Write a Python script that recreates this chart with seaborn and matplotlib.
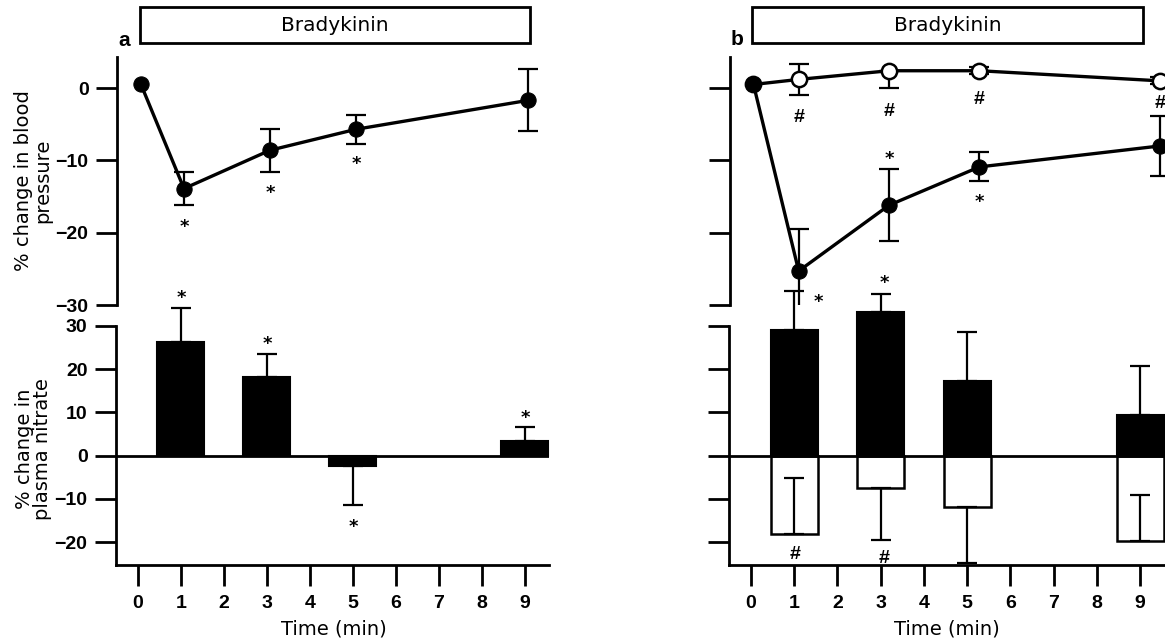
import matplotlib
matplotlib.use('Agg')
import matplotlib.pyplot as plt
from matplotlib.patches import Rectangle
import seaborn as sns
import pandas as pd

sns.set_theme(style='ticks')
plt.rcParams['font.family'] = ['DejaVu Sans']
plt.rcParams.update({'text.color': 'black', 'axes.labelcolor': 'black',
                     'xtick.color': 'black', 'ytick.color': 'black',
                     'axes.edgecolor': 'black'})

# ---------------- data ----------------
time_bp = [0, 1, 3, 5, 9]
bp_a = [0.5, -13.9, -8.6, -5.7, -1.7]
bp_a_err = [0.0, 2.3, 3.0, 2.0, 4.3]
bp_b_bk = [0.5, -25.3, -16.2, -10.9, -8.0]
bp_b_bk_err = [0.0, 5.8, 5.0, 2.0, 4.1]
bp_b_ctrl = [0.5, 1.2, 2.4, 2.4, 1.0]
bp_b_ctrl_err_up = [0.0, 2.1, 0.0, 0.5, 0.5]
bp_b_ctrl_err_dn = [0.0, 2.1, 2.4, 0.5, 0.5]

time_no = [1, 3, 5, 9]
no_a = [26.4, 18.1, -2.5, 3.3]
no_a_err_up = [7.8, 5.4, 0.0, 3.3]
no_a_err_dn = [0.0, 0.0, 8.9, 0.0]
no_b_bk = [29.1, 33.3, 17.3, 9.35]
no_b_bk_err_up = [8.9, 4.2, 11.4, 11.4]
no_b_bk_err_dn = [0.0, 0.0, 0.0, 0.0]
no_b_ctrl = [-18.1, -7.5, -11.8, -19.8]
no_b_ctrl_err_up = [12.9, 0.0, 0.0, 10.6]
no_b_ctrl_err_dn = [0.0, 12.0, 13.0, 0.0]

x_ticks = [0, 1, 2, 3, 4, 5, 6, 7, 8, 9]
bp_ticks = [0, -10, -20, -30]
no_ticks = [30, 20, 10, 0, -10, -20]

# significance marks (x, y)
star_a_top = [(1, -18.5), (3, -13.8), (5, -9.8)]
star_a_bot = [(1, 37.7), (3, 27.0), (5, -15.3), (9, 10.0)]
star_b_top = [(3, -9.1), (5, -15.0)]
hash_b_top = [(1, -3.9), (3, -3.0), (5, -1.4), (9, -1.85)]
star_b_bot = [(1.57, 36.8), (3.08, 41.1)]
hash_b_bot = [(1.03, -22.6), (3.08, -23.4)]

# ---------------- figure ----------------
W, H = 1165, 643
fig = plt.figure(figsize=(W / 100, H / 100), dpi=100)
fig.patch.set_facecolor('white')


def px_axes(left, right, top, bottom):
    return fig.add_axes([left / W, 1 - bottom / H, (right - left) / W, (bottom - top) / H])


ax_at = px_axes(117, 549, 57, 305)
ax_ab = px_axes(116, 549, 326, 565)
ax_bt = px_axes(730, 1190, 57, 305)
ax_bb = px_axes(728.5, 1166, 326, 565)

LW_SPINE = 2.0
ERR_KW = dict(fmt='none', ecolor='black', elinewidth=1.6, capsize=7, capthick=1.6)


def style(ax, xaxis):
    ax.set_facecolor('white')
    for s in ['top', 'right']:
        ax.spines[s].set_visible(False)
    ax.spines['left'].set_linewidth(LW_SPINE)
    ax.spines['left'].set_color('black')
    if xaxis:
        ax.spines['bottom'].set_linewidth(LW_SPINE)
        ax.spines['bottom'].set_color('black')
        ax.tick_params(axis='x', direction='out', length=15, width=2, color='black',
                       labelcolor='black', pad=6.5)
    else:
        ax.spines['bottom'].set_visible(False)
        ax.tick_params(axis='x', bottom=False, labelbottom=False)
    ax.tick_params(axis='y', direction='out', length=15, width=2, color='black',
                   labelcolor='black', pad=5.5)
    ax.set_xlabel('')
    ax.set_ylabel('')


def tick_font(ax):
    for lab in ax.get_xticklabels() + ax.get_yticklabels():
        lab.set_fontfamily('Liberation Sans')
        lab.set_fontweight('bold')
        lab.set_fontsize(14)
        lab.set_color('black')


def unclip(container):
    for group in container.lines[1:]:
        for art in group:
            art.set_clip_on(False)


def marks(ax, pts, sym):
    for x, y in pts:
        if sym == '*':
            ax.annotate('*', (x, y), xytext=(0, -3.9), textcoords='offset points',
                        ha='center', va='center', fontsize=13, fontweight='bold',
                        family='DejaVu Sans', color='black', annotation_clip=False)
        else:
            ax.annotate('#', (x, y), xytext=(0, -1.2), textcoords='offset points',
                        ha='center', va='center', fontsize=14, fontweight='bold',
                        family='Liberation Sans', color='black', annotation_clip=False)


# ---------- panel a, blood pressure ----------
ax_at.errorbar(time_bp[1:], bp_a[1:], yerr=bp_a_err[1:], zorder=3, **ERR_KW)
sns.lineplot(x=time_bp, y=bp_a, ax=ax_at, color='black', linewidth=2.4, marker='o',
             markersize=11, markerfacecolor='black', markeredgecolor='black', zorder=4,
             errorbar=None)
marks(ax_at, star_a_top, '*')

# ---------- panel a, nitrate ----------
df_a = pd.DataFrame({'time': time_no, 'no': no_a})
sns.barplot(data=df_a, x='time', y='no', native_scale=True, orient='x', width=0.545,
            color='black', saturation=1, edgecolor='black', linewidth=1.5,
            errorbar=None, ax=ax_ab, zorder=2)
c = ax_ab.errorbar(time_no, no_a, yerr=[no_a_err_dn, no_a_err_up], zorder=3, **ERR_KW)
unclip(c)
ax_ab.axhline(0, color='black', lw=2, zorder=2.5)
marks(ax_ab, star_a_bot, '*')

# ---------- panel b, blood pressure ----------
ax_bt.errorbar(time_bp[1:], bp_b_ctrl[1:], yerr=[bp_b_ctrl_err_dn[1:], bp_b_ctrl_err_up[1:]],
               zorder=3, **ERR_KW)
ax_bt.errorbar(time_bp[1:], bp_b_bk[1:], yerr=bp_b_bk_err[1:], zorder=3, **ERR_KW)
sns.lineplot(x=time_bp, y=bp_b_ctrl, ax=ax_bt, color='black', linewidth=2.4, marker='o',
             markersize=11, markerfacecolor='white', markeredgecolor='black',
             markeredgewidth=1.8, zorder=4, errorbar=None)
sns.lineplot(x=time_bp, y=bp_b_bk, ax=ax_bt, color='black', linewidth=2.4, marker='o',
             markersize=11, markerfacecolor='black', markeredgecolor='black', zorder=5,
             errorbar=None)
marks(ax_bt, star_b_top, '*')
marks(ax_bt, hash_b_top, '#')

# ---------- panel b, nitrate ----------
df_bk = pd.DataFrame({'time': time_no, 'no': no_b_bk})
df_ct = pd.DataFrame({'time': time_no, 'no': no_b_ctrl})
sns.barplot(data=df_bk, x='time', y='no', native_scale=True, orient='x', width=0.545,
            color='black', saturation=1, edgecolor='black', linewidth=1.5,
            errorbar=None, ax=ax_bb, zorder=2)
sns.barplot(data=df_ct, x='time', y='no', native_scale=True, orient='x', width=0.545,
            color='white', saturation=1, edgecolor='black', linewidth=1.8,
            errorbar=None, ax=ax_bb, zorder=2)
for p in ax_bb.patches + ax_ab.patches:
    p.set_clip_on(False)
c = ax_bb.errorbar(time_no, no_b_bk, yerr=[no_b_bk_err_dn, no_b_bk_err_up], zorder=3, **ERR_KW)
unclip(c)
c = ax_bb.errorbar(time_no, no_b_ctrl, yerr=[no_b_ctrl_err_dn, no_b_ctrl_err_up], zorder=3, **ERR_KW)
unclip(c)
ax_bb.axhline(0, color='black', lw=2, zorder=2.5)
marks(ax_bb, star_b_bot, '*')
marks(ax_bb, hash_b_bot, '#')

# ---------- axes styling ----------
for ax in (ax_at, ax_bt):
    style(ax, False)
    ax.set_ylim(-30, 4.3)
    ax.set_yticks(bp_ticks)
for ax in (ax_ab, ax_bb):
    style(ax, True)
    ax.set_ylim(-25.3, 30)
    ax.set_yticks(no_ticks)
    ax.set_xticks(x_ticks)

ax_at.set_xlim(-0.558, 9.49)
ax_ab.set_xlim(-0.51, 9.56)
ax_bt.set_xlim(-0.52, 9.66)
ax_bb.set_xlim(-0.52, 9.6)

ax_bt.tick_params(axis='y', labelleft=False)
ax_bb.tick_params(axis='y', labelleft=False)

for ax in (ax_at, ax_ab, ax_bt, ax_bb):
    tick_font(ax)

# ---------- labels ----------
fig.text(33 / W, 1 - 181 / H, '% change in blood\npressure', rotation=90, ha='center',
         va='center', multialignment='center', fontsize=14, linespacing=1.0)
fig.text(33.5 / W, 1 - 449 / H, '% change in\nplasma nitrate', rotation=90, ha='center',
         va='center', multialignment='center', fontsize=14, linespacing=1.0)
fig.text(333.5 / W, 1 - 629 / H, 'Time (min)', ha='center', va='center', fontsize=14)
fig.text(946.6 / W, 1 - 629 / H, 'Time (min)', ha='center', va='center', fontsize=14)

# stimulus boxes
for left, right, cx in ((140, 530, 335), (751.6, 1143.4, 947.5)):
    fig.add_artist(Rectangle((left / W, 1 - 42.7 / H), (right - left) / W, 36 / H,
                             transform=fig.transFigure, fill=False, lw=2, ec='black'))
    fig.text(cx / W, 1 - 25.5 / H, 'Bradykinin', ha='center', va='center', fontsize=14.5)

fig.text(124.5 / W, 1 - 40.5 / H, 'a', ha='center', va='center', fontsize=15,
         fontweight='bold', family='Liberation Sans')
fig.text(737.5 / W, 1 - 39.7 / H, 'b', ha='center', va='center', fontsize=15,
         fontweight='bold', family='Liberation Sans')

fig.savefig('out.png', dpi=100, facecolor='white')
